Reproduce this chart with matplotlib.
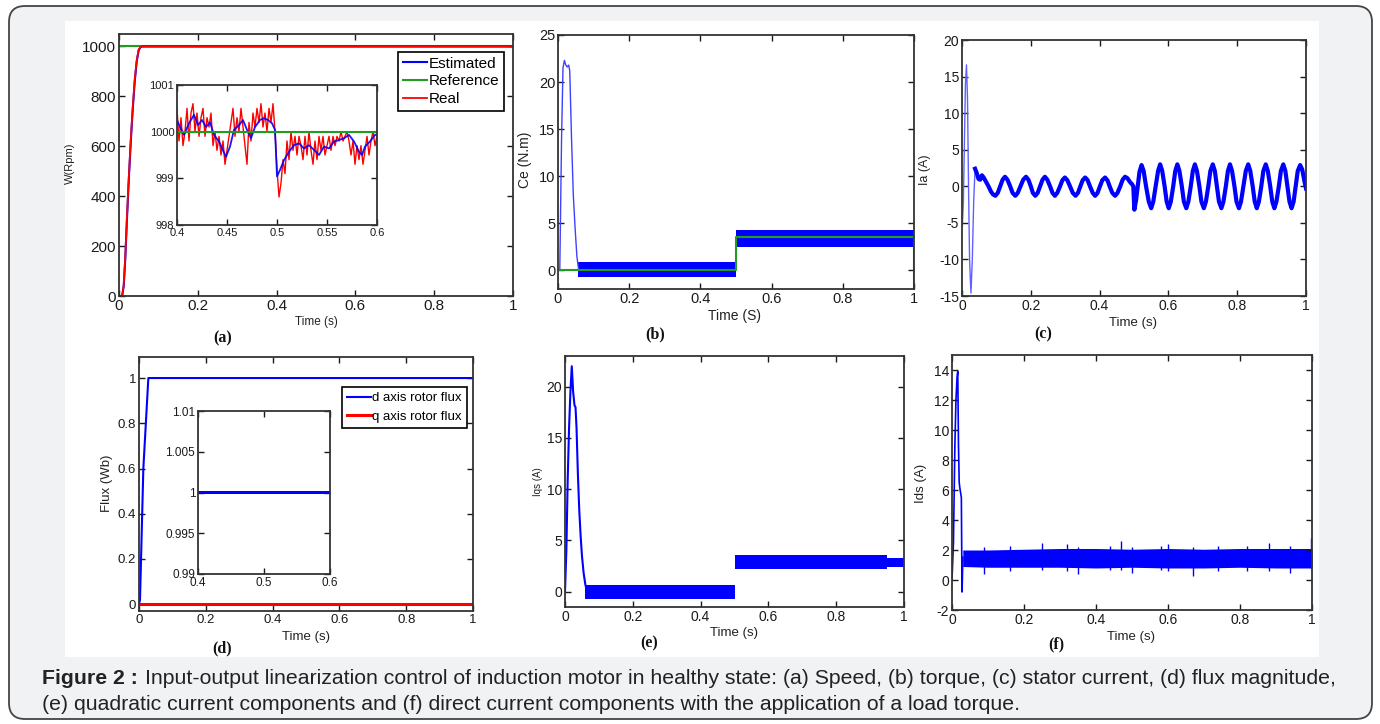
import matplotlib
matplotlib.use("Agg")
import matplotlib.pyplot as plt
from matplotlib.patches import FancyBboxPatch, Rectangle
from matplotlib.ticker import FuncFormatter

plt.rcParams['font.family'] = ['Liberation Sans', 'DejaVu Sans']

## DATA

# (a) speed
speed_t = [0, 0.008, 0.012, 0.016, 0.02, 0.025, 0.03, 0.035, 0.04, 0.045, 0.05, 0.055, 0.06, 0.1, 1.0]
speed_est = [0, 0, 40, 150, 300, 470, 620, 750, 860, 940, 985, 998, 1000, 1000, 1000]
speed_real = [0, 0, 45, 160, 310, 480, 630, 760, 870, 945, 988, 999, 1000, 1000, 1000]
speed_ref_t = [0, 1.0]
speed_ref = [1000, 1000]

# (a) zoomed inset
zoom_est_t = [0.400, 0.403, 0.407, 0.412, 0.417, 0.421, 0.425, 0.429, 0.433, 0.437,
              0.442, 0.446, 0.449, 0.453, 0.457, 0.462, 0.466, 0.470, 0.474, 0.478,
              0.483, 0.487, 0.491, 0.495, 0.498, 0.500, 0.503, 0.507, 0.512, 0.517,
              0.522, 0.527, 0.532, 0.537, 0.542, 0.547, 0.552, 0.557, 0.562, 0.567,
              0.572, 0.577, 0.582, 0.585, 0.588, 0.593, 0.598, 0.600]
zoom_est = [1000.25, 1000.1, 999.93, 1000.18, 1000.36, 1000.14, 1000.25, 1000.1, 1000.2, 999.93,
            999.79, 999.6, 999.46, 999.68, 1000.04, 1000.14, 1000.25, 1000.04, 999.86, 1000.1,
            1000.25, 1000.29, 1000.25, 1000.18, 1000.04, 999.04, 999.18, 999.39, 999.57, 999.71,
            999.75, 999.64, 999.71, 999.61, 999.5, 999.68, 999.64, 999.79, 999.82, 999.86,
            999.93, 999.79, 999.57, 999.5, 999.68, 999.79, 999.93, 999.93]
zoom_real_t = [0.400, 0.402, 0.404, 0.406, 0.408, 0.410, 0.412, 0.414, 0.416, 0.418,
               0.420, 0.422, 0.424, 0.426, 0.428, 0.430, 0.432, 0.434, 0.436, 0.438,
               0.440, 0.442, 0.444, 0.446, 0.448, 0.450, 0.452, 0.454, 0.456, 0.458,
               0.460, 0.462, 0.464, 0.466, 0.468, 0.470, 0.472, 0.474, 0.476, 0.478,
               0.480, 0.482, 0.484, 0.486, 0.488, 0.490, 0.492, 0.494, 0.496, 0.498,
               0.500, 0.502, 0.504, 0.506, 0.508, 0.510, 0.512, 0.514, 0.516, 0.518,
               0.520, 0.522, 0.524, 0.526, 0.528, 0.530, 0.532, 0.534, 0.536, 0.538,
               0.540, 0.542, 0.544, 0.546, 0.548, 0.550, 0.552, 0.554, 0.556, 0.558,
               0.560, 0.562, 0.564, 0.566, 0.568, 0.570, 0.572, 0.574, 0.576, 0.578,
               0.580, 0.582, 0.584, 0.586, 0.588, 0.590, 0.592, 0.594, 0.596, 0.598, 0.600]
zoom_real = [1000.5, 999.8, 1000.3, 999.7, 1000.0, 1000.5, 999.8, 1000.4, 1000.6, 1000.0,
             1000.4, 999.9, 1000.3, 1000.5, 999.9, 1000.3, 1000.1, 1000.4, 999.7, 1000.0,
             999.6, 999.9, 999.5, 999.8, 999.3, 999.6, 999.9, 1000.2, 1000.5, 999.9,
             1000.3, 1000.0, 1000.5, 1000.1, 999.7, 999.3, 1000.2, 999.8, 1000.4, 1000.1,
             1000.5, 1000.2, 1000.6, 1000.1, 1000.4, 1000.0, 1000.5, 1000.2, 1000.6, 1000.0,
             999.2, 998.6, 998.9, 999.4, 999.1, 999.8, 999.4, 1000.0, 999.6, 999.9,
             999.5, 999.9, 999.7, 999.4, 999.9, 999.5, 1000.0, 999.6, 999.3, 999.8,
             999.4, 999.9, 999.6, 999.9, 999.5, 999.7, 999.9, 999.6, 999.9, 999.7,
             999.9, 999.8, 1000.0, 999.8, 999.9, 1000.0, 999.8, 999.5, 999.8, 999.3,
             999.7, 999.4, 999.7, 999.3, 999.6, 999.9, 999.5, 999.8, 1000.0, 999.7, 999.9]

# (b) torque
torque_t = [0, 0.005, 0.010, 0.014, 0.018, 0.022, 0.026, 0.030, 0.033, 0.038, 0.043, 0.048, 0.053, 0.058]
torque_v = [0, 0, 14, 21.5, 22.3, 21.8, 21.6, 21.8, 21.2, 14, 8, 4.5, 1.5, 0]
torque_band_t = [0.055, 0.5, 0.5, 1.0]
torque_lo = [-0.75, -0.75, 2.5, 2.5]
torque_hi = [0.85, 0.85, 4.3, 4.3]
torque_ref_t = [0, 0.5, 0.5, 1.0, 1.0]
torque_ref = [0, 0, 3.5, 3.5, -2]

# (c) stator current
ia_start_t = [0.001, 0.004, 0.007, 0.010, 0.013, 0.016, 0.019, 0.022, 0.026, 0.030, 0.034, 0.038]
ia_start = [-5.5, -2, 6, 14, 16.6, 12, 0, -10, -14.6, -10, -2, 2.4]
ia_t = [0.038, 0.043, 0.048, 0.053, 0.058, 0.063, 0.070, 0.077, 0.084, 0.090,
        0.097, 0.104, 0.111, 0.118, 0.125, 0.132, 0.140, 0.147, 0.155, 0.162,
        0.170, 0.178, 0.186, 0.193, 0.200, 0.206, 0.213, 0.220, 0.227, 0.234,
        0.241, 0.248, 0.256, 0.263, 0.270, 0.277, 0.285, 0.292, 0.299, 0.306,
        0.314, 0.322, 0.330, 0.337, 0.344, 0.351, 0.358, 0.365, 0.372, 0.380,
        0.387, 0.394, 0.401, 0.408, 0.416, 0.423, 0.430, 0.437, 0.445, 0.452,
        0.460, 0.467, 0.474, 0.481, 0.488, 0.494, 0.498, 0.501,
        0.506, 0.511, 0.516, 0.522, 0.528, 0.535, 0.543, 0.550, 0.556, 0.563,
        0.570, 0.576, 0.582, 0.589, 0.595, 0.601, 0.607, 0.614, 0.620, 0.626,
        0.632, 0.639, 0.645, 0.652, 0.658, 0.665, 0.671, 0.677, 0.683, 0.690,
        0.696, 0.703, 0.709, 0.716, 0.722, 0.729, 0.735, 0.741, 0.747, 0.754,
        0.760, 0.767, 0.773, 0.779, 0.785, 0.792, 0.798, 0.805, 0.811, 0.818,
        0.825, 0.832, 0.838, 0.845, 0.851, 0.857, 0.863, 0.870, 0.876, 0.883,
        0.889, 0.896, 0.902, 0.908, 0.914, 0.921, 0.927, 0.934, 0.940, 0.946,
        0.952, 0.958, 0.964, 0.970, 0.976, 0.983, 0.989, 0.995, 1.0]
ia_v = [2.4, 1.8, 1.0, 0.9, 1.5, 1.2, 0.6, 0.0, -0.7, -1.1,
        -1.3, -0.9, 0.0, 0.9, 1.3, 0.9, 0.0, -0.9, -1.3, -0.9,
        0.0, 0.9, 1.3, 0.9, 0.0, -0.9, -1.3, -0.9, 0.0, 0.9,
        1.3, 0.9, 0.0, -0.9, -1.3, -0.9, 0.0, 0.85, 1.2, 0.85,
        0.0, -0.9, -1.3, -0.9, 0.0, 0.85, 1.2, 0.85, 0.0, -0.9,
        -1.3, -0.9, 0.0, 0.85, 1.2, 0.8, -0.1, -0.9, -1.3, -0.9,
        0.0, 0.9, 1.3, 1.1, 0.6, 0.3, 0.0, -3.2,
        -1.9, 0.0, 2.0, 2.9, 2.1, 0.0, -2.1, -3.0, -2.1, 0.0,
        2.1, 3.0, 2.1, 0.0, -2.1, -3.0, -2.1, 0.0, 2.1, 3.0,
        2.1, 0.0, -2.1, -3.0, -2.1, 0.0, 2.1, 3.0, 2.1, 0.0,
        -2.1, -3.0, -2.1, 0.0, 2.1, 3.0, 2.1, 0.0, -2.1, -3.0,
        -2.1, 0.0, 2.1, 3.0, 2.1, 0.0, -2.1, -3.0, -2.1, 0.0,
        2.1, 3.0, 2.1, 0.0, -2.1, -3.0, -2.1, 0.0, 2.1, 3.0,
        2.1, 0.0, -2.1, -3.0, -2.1, 0.0, 2.1, 3.0, 2.1, 0.0,
        -2.1, -3.0, -2.1, 0.0, 2.1, 2.9, 2.3, 0.8, -0.3]

# (d) rotor flux
flux_t = [0, 0.003, 0.013, 0.028, 1.0]
flux_d = [0, 0.02, 0.6, 1.0, 1.0]
flux_q_t = [0, 1.0]
flux_q = [0, 0]
flux_zoom_t = [0.4, 0.6]
flux_zoom_lo = [0.99985, 0.99985]
flux_zoom_hi = [1.00015, 1.00015]

# (e) quadrature current
iqs_t = [0, 0.004, 0.008, 0.012, 0.016, 0.02, 0.024, 0.028, 0.031, 0.034, 0.038, 0.042,
         0.046, 0.05, 0.055, 0.06, 0.065]
iqs_v = [0, 4, 11, 16, 19.5, 22, 19.5, 18.2, 18, 16, 11.5, 8, 5.5, 3.5, 1.8, 0.7, 0]
iqs_band_t = [0.06, 0.5, 0.5, 0.95, 0.95, 1.0]
iqs_lo = [-0.7, -0.7, 2.2, 2.2, 2.4, 2.4]
iqs_hi = [0.6, 0.6, 3.6, 3.6, 3.3, 3.3]

# (f) direct current
ids_t = [0, 0.004, 0.008, 0.011, 0.014, 0.016, 0.018, 0.020, 0.022, 0.024, 0.026, 0.027, 0.028, 0.030]
ids_v = [0, 2.5, 9, 12, 13.5, 13.9, 9, 6.5, 6.1, 5.8, 5.5, 2, -0.8, 1.5]
ids_band_t = [0.03, 0.1, 0.2, 0.3, 0.4, 0.5, 0.6, 0.7, 0.8, 0.9, 1.0]
ids_lo = [0.9, 0.85, 0.85, 0.85, 0.8, 0.85, 0.8, 0.8, 0.85, 0.8, 0.8]
ids_hi = [2.0, 2.0, 2.05, 2.1, 2.1, 2.05, 2.1, 2.05, 2.1, 2.1, 2.1]
ids_spike_t = [0.09, 0.16, 0.25, 0.32, 0.35, 0.44, 0.47, 0.50, 0.58, 0.60, 0.67, 0.74, 0.82, 0.88, 0.94, 0.998]
ids_spike_lo = [0.4, 0.6, 0.7, 0.6, 0.4, 0.7, 0.7, 0.5, 0.7, 0.6, 0.25, 0.6, 0.6, 0.6, 0.5, 0.8]
ids_spike_hi = [2.2, 2.3, 2.5, 2.4, 2.2, 2.3, 2.6, 2.2, 2.3, 2.4, 2.2, 2.3, 2.3, 2.5, 2.3, 2.8]

time_ticks = [0, 0.2, 0.4, 0.6, 0.8, 1]

caption_bold = "Figure 2 :"
caption_1 = ("Input-output linearization control of induction motor in healthy state: (a) Speed, "
             "(b) torque, (c) stator current, (d) flux magnitude,")
caption_2 = ("(e) quadratic current components and (f) direct current components with the "
             "application of a load torque.")

BLUE = '#0000ff'
GREEN = '#1f9e1f'
RED = '#ff0000'

## FIGURE

W, H = 1380, 724
fig = plt.figure(figsize=(W / 100, H / 100), dpi=100)


def rect(x0, y0, x1, y1):
    # pixel box (top-left origin) -> figure fraction
    return [x0 / W, 1 - y1 / H, (x1 - x0) / W, (y1 - y0) / H]


def style(ax, size):
    ax.tick_params(direction='in', top=True, right=True, length=4, width=1,
                   labelsize=size, pad=2, colors='#1a1a1a')
    for s in ax.spines.values():
        s.set_linewidth(1.3)
        s.set_color('#333333')
    fmt = FuncFormatter(lambda v, p: f'{v:g}')
    ax.xaxis.set_major_formatter(fmt)
    ax.yaxis.set_major_formatter(fmt)


# background page with rounded frame and white picture area
bg = fig.add_axes([0, 0, 1, 1])
bg.set_xlim(0, W)
bg.set_ylim(H, 0)
bg.axis('off')
bg.add_patch(FancyBboxPatch((9, 6), 1363, 713, boxstyle="round,pad=0,rounding_size=16",
                            fc='#f1f2f4', ec='#444444', lw=1.3))
bg.add_patch(Rectangle((65, 21), 1254, 636, fc='white', ec='none'))
bg.text(42, 679, caption_bold, fontsize=15.3, fontweight='bold', va='center', color='#222222')
bg.text(145, 679, caption_1, fontsize=15.3, va='center', color='#222222')
bg.text(42, 704, caption_2, fontsize=15.3, va='center', color='#222222')

# axis labels and panel letters, placed in pixels
labels = [
    ("W(Rpm)", 70, 163, 8, 90), ("Time (s)", 316, 322, 8.5, 0),
    ("Ce (N.m)", 525, 160, 10, 90), ("Time (S)", 735, 316, 10, 0),
    ("Ia (A)", 925, 170, 9, 90), ("Time (s)", 1133, 323, 9.5, 0),
    ("Flux (Wb)", 107, 483, 9.5, 90), ("Time (s)", 306, 637, 9.5, 0),
    ("Iqs (A)", 538, 482, 7, 90), ("Time (s)", 734, 633, 9.5, 0),
    ("Ids (A)", 921, 483, 9.5, 90), ("Time (s)", 1131, 637, 9.5, 0),
]
for txt, x, y, size, rot in labels:
    bg.text(x, y, txt, fontsize=size, rotation=rot, ha='center', va='center', color='#222222')

for txt, x, y in [("(a)", 223, 338), ("(b)", 655, 334), ("(c)", 1043, 334),
                  ("(d)", 222, 648), ("(e)", 649, 643), ("(f)", 1056, 644)]:
    bg.text(x, y, txt, fontsize=11.5, fontweight='bold', family='Liberation Serif',
            ha='center', va='center', color='#111111')

## (a) speed
ax = fig.add_axes(rect(119, 34, 513, 296))
ax.plot(speed_ref_t, speed_ref, color=GREEN, lw=1.5, label='Reference')
ax.plot(speed_t, speed_est, color=BLUE, lw=1.5, label='Estimated')
ax.plot(speed_t, speed_real, color=RED, lw=1.3, label='Real')
ax.set_xlim(0, 1)
ax.set_ylim(0, 1050)
ax.set_xticks(time_ticks)
ax.set_yticks([0, 200, 400, 600, 800, 1000])
style(ax, 11)
h, l = ax.get_legend_handles_labels()
leg = ax.legend([h[1], h[0], h[2]], [l[1], l[0], l[2]], loc='upper right',
                bbox_to_anchor=(0.977, 0.931), borderaxespad=0, fontsize=11,
                handlelength=1.6, handletextpad=0.1, borderpad=0.3, labelspacing=0.25,
                fancybox=False, framealpha=1, edgecolor='black')
leg.get_frame().set_linewidth(1.2)

ins = fig.add_axes(rect(177, 85, 377, 225))
ins.plot(zoom_real_t, zoom_real, color=RED, lw=1.0)
ins.plot(zoom_est_t, zoom_est, color=BLUE, lw=1.3, alpha=0.9)
ins.plot([0.4, 0.6], [1000, 1000], color=GREEN, lw=1.5)
ins.set_xlim(0.4, 0.6)
ins.set_ylim(998, 1001)
ins.set_xticks([0.4, 0.45, 0.5, 0.55, 0.6])
ins.set_yticks([998, 999, 1000, 1001])
style(ins, 8)

## (b) torque
ax = fig.add_axes(rect(558, 35, 914, 289))
ax.plot(torque_t, torque_v, color='#4040ff', lw=1.0)
ax.fill_between(torque_band_t, torque_lo, torque_hi, color=BLUE, lw=0)
ax.plot(torque_ref_t, torque_ref, color=GREEN, lw=1.5)
ax.set_xlim(0, 1)
ax.set_ylim(-2, 25)
ax.set_xticks(time_ticks)
ax.set_yticks([0, 5, 10, 15, 20, 25])
style(ax, 10.5)

## (c) stator current
ax = fig.add_axes(rect(962, 40, 1306, 296))
ax.plot(ia_start_t, ia_start, color='#6060ff', lw=1.0)
ax.plot(ia_t, ia_v, color=BLUE, lw=3.0, solid_joinstyle='round')
ax.set_xlim(0, 1)
ax.set_ylim(-15, 20)
ax.set_xticks(time_ticks)
ax.set_yticks([-15, -10, -5, 0, 5, 10, 15, 20])
style(ax, 10)

## (d) rotor flux
ax = fig.add_axes(rect(139, 357, 473, 611))
ax.plot(flux_t, flux_d, color=BLUE, lw=1.5, label='d axis rotor flux')
ax.plot(flux_q_t, flux_q, color=RED, lw=2.2, label='q axis rotor flux')
ax.set_xlim(0, 1)
ax.set_ylim(-0.03, 1.093)
ax.set_xticks(time_ticks)
ax.set_yticks([0, 0.2, 0.4, 0.6, 0.8, 1])
style(ax, 9.5)
leg = ax.legend(loc='upper right', bbox_to_anchor=(0.982, 0.882), borderaxespad=0,
                fontsize=9.5, handlelength=1.8, handletextpad=0.1, borderpad=0.4,
                labelspacing=0.45, fancybox=False, framealpha=1, edgecolor='black')
leg.get_frame().set_linewidth(1.2)

ins = fig.add_axes(rect(198, 411, 330, 574))
ins.fill_between(flux_zoom_t, flux_zoom_lo, flux_zoom_hi, color=BLUE, lw=0)
ins.plot(flux_zoom_t, [1, 1], color=BLUE, lw=1.2)
ins.set_xlim(0.4, 0.6)
ins.set_ylim(0.99, 1.01)
ins.set_xticks([0.4, 0.5, 0.6])
ins.set_yticks([0.99, 0.995, 1, 1.005, 1.01])
style(ins, 8.5)

## (e) quadrature current
ax = fig.add_axes(rect(565, 356, 904, 607))
ax.plot(iqs_t, iqs_v, color=BLUE, lw=1.5)
ax.fill_between(iqs_band_t, iqs_lo, iqs_hi, color=BLUE, lw=0)
ax.set_xlim(0, 1)
ax.set_ylim(-1.5, 23)
ax.set_xticks(time_ticks)
ax.set_yticks([0, 5, 10, 15, 20])
style(ax, 10)

## (f) direct current
ax = fig.add_axes(rect(952, 355, 1312, 610))
ax.plot(ids_t, ids_v, color=BLUE, lw=1.2)
ax.fill_between(ids_band_t, ids_lo, ids_hi, color=BLUE, lw=0)
ax.vlines(ids_spike_t, ids_spike_lo, ids_spike_hi, color=BLUE, lw=1.0)
ax.set_xlim(0, 1)
ax.set_ylim(-2, 15)
ax.set_xticks(time_ticks)
ax.set_yticks([-2, 0, 2, 4, 6, 8, 10, 12, 14])
style(ax, 10)

fig.savefig('out.png', dpi=100)
